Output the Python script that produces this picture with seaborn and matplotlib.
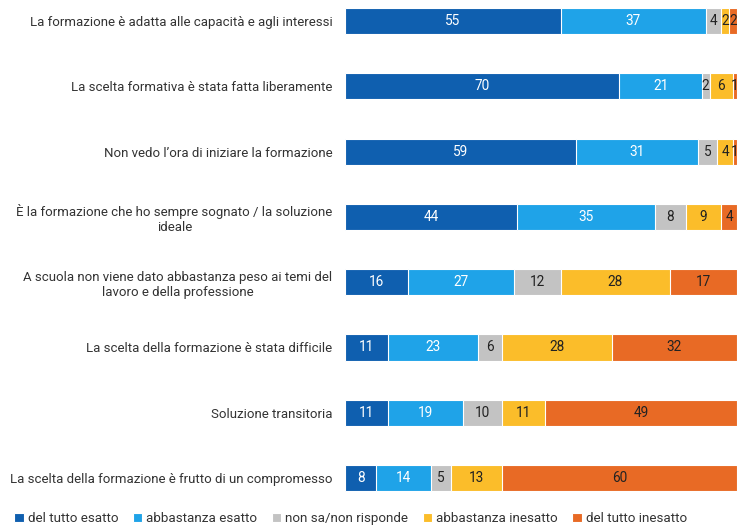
import seaborn as sns
import matplotlib.pyplot as plt
import pandas as pd
import numpy as np

categories = [
    "La formazione è adatta alle capacità e agli interessi",
    "La scelta formativa è stata fatta liberamente",
    "Non vedo l’ora di iniziare la formazione",
    "È la formazione che ho sempre sognato / la soluzione\nideale",
    "A scuola non viene dato abbastanza peso ai temi del\nlavoro e della professione",
    "La scelta della formazione è stata difficile",
    "Soluzione transitoria",
    "La scelta della formazione è frutto di un compromesso",
]
series = ["del tutto esatto", "abbastanza esatto", "non sa/non risponde",
          "abbastanza inesatto", "del tutto inesatto"]
del_tutto_esatto = [55, 70, 59, 44, 16, 11, 11, 8]
abbastanza_esatto = [37, 21, 31, 35, 27, 23, 19, 14]
non_sa = [4, 2, 5, 8, 12, 6, 10, 5]
abbastanza_inesatto = [2, 6, 4, 9, 28, 28, 11, 13]
del_tutto_inesatto = [2, 1, 1, 4, 17, 32, 49, 60]

colors = ["#0f5faf", "#1fa3e8", "#c3c3c3", "#fbbd2a", "#e86a25"]
text_colors = ["white", "white", "#222222", "#222222", "#222222"]

df = pd.DataFrame({
    "Categoria": categories,
    series[0]: del_tutto_esatto,
    series[1]: abbastanza_esatto,
    series[2]: non_sa,
    series[3]: abbastanza_inesatto,
    series[4]: del_tutto_inesatto,
})
cum = df[series].cumsum(axis=1)

sns.set_style("white")
plt.rcParams["font.family"] = ["Roboto", "DejaVu Sans"]

fig = plt.figure(figsize=(7.37, 5.31), dpi=100)
ax = fig.add_axes([345 / 737, 26 / 531, 1 - 345 / 737, 505 / 531])

# stacked bars: draw cumulative totals from the widest down
for i in reversed(range(len(series))):
    sns.barplot(x=cum[series[i]], y=df["Categoria"], color=colors[i], orient="h",
                width=0.4, edgecolor="white", linewidth=0.8, ax=ax,
                label=series[i], saturation=1)

for i, s in enumerate(series):
    start = cum[s] - df[s]
    for j in range(len(categories)):
        v = df[s][j]
        ax.text(start[j] + v / 2, j, str(v), ha="center", va="center",
                fontsize=9.8, color=text_colors[i], clip_on=True)

ax.set_xlim(0, 100)
ax.set_ylim(7.413, -0.322)
ax.set_xlabel("")
ax.set_ylabel("")
ax.set_xticks([])
ax.tick_params(axis="y", length=0, pad=9, labelsize=9.5, labelcolor="#333333")
for lab in ax.get_yticklabels():
    lab.set_multialignment("center")
sns.despine(ax=ax, left=True, bottom=True)

handles, labels = ax.get_legend_handles_labels()
order = [labels.index(s) for s in series]
if ax.legend_:
    ax.legend_.remove()
fig.legend([handles[k] for k in order], series, loc="lower left",
           bbox_to_anchor=(0.003, -0.012), ncol=5, frameon=False,
           handlelength=0.7, handleheight=0.7, handletextpad=0.3,
           columnspacing=1.1, fontsize=9.6, labelcolor="#333333")

fig.savefig("out.png", dpi=100)
